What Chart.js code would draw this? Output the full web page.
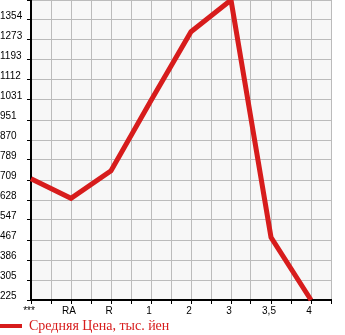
<!DOCTYPE html>
<html>
<head>
<meta charset="utf-8">
<script src="https://cdn.jsdelivr.net/npm/chart.js@4.4.0/dist/chart.umd.min.js"></script>
<style>
  html, body { margin: 0; padding: 0; background: #ffffff; }
  #wrap { width: 345px; height: 335px; }
</style>
</head>
<body>
<div id="wrap"><canvas id="chart"></canvas></div>
<script>
// categories along the bottom axis
const categories = ['***', 'RA', 'R', '1', '2', '3', '3,5', '4'];
// average price, thousand yen
const prices = [714, 635, 746, 1030, 1307, 1435, 478, 225];
// left axis labels (top gridline has no label)
const yTickLabels = ['225', '305', '386', '467', '547', '628', '709', '789',
  '870', '951', '1031', '1112', '1193', '1273', '1354', ''];
const yMin = 225;
const yMax = 1435;
const seriesName = 'Средняя Цена, тыс. йен';

const lineColor = '#d71c1c';

const plotBackground = {
  id: 'plotBackground',
  beforeDraw(chart) {
    const { ctx, chartArea: a } = chart;
    ctx.save();
    ctx.fillStyle = '#f7f7f7';
    ctx.fillRect(a.left, a.top, a.right - a.left, a.bottom - a.top);
    ctx.restore();
  }
};

new Chart(document.getElementById('chart'), {
  type: 'line',
  data: {
    datasets: [{
      label: seriesName,
      data: prices.map((v, i) => ({ x: i, y: v })),
      borderColor: lineColor,
      backgroundColor: lineColor,
      borderWidth: 5,
      pointRadius: 0,
      tension: 0,
      clip: false
    }]
  },
  options: {
    responsive: true,
    maintainAspectRatio: false,
    animation: false,
    // negative bottom padding pulls the legend down to the canvas edge
    layout: { padding: { top: 0, left: 0, right: 14, bottom: -8 } },
    plugins: {
      tooltip: { enabled: false },
      legend: {
        display: true,
        position: 'bottom',
        align: 'start',
        labels: {
          boxWidth: 22,
          boxHeight: 4,
          padding: 0,
          color: '#d71c1c',
          font: { family: '"Liberation Serif", "DejaVu Serif", serif', size: 14 },
          generateLabels(chart) {
            const items = Chart.defaults.plugins.legend.labels.generateLabels(chart);
            items.forEach(it => { it.lineWidth = 0; it.fillStyle = lineColor; });
            return items;
          }
        }
      }
    },
    scales: {
      x: {
        type: 'linear',
        min: 0,
        max: 7.5,
        afterBuildTicks(scale) {
          const t = [];
          for (let i = 0; i <= 15; i++) t.push({ value: i * 0.5 });
          scale.ticks = t;
        },
        afterFit(scale) {
          scale.height = 19;
          scale.paddingLeft = 0;
          scale.paddingRight = 0;
        },
        grid: { color: '#bbbbbb', tickColor: '#000000', tickLength: 4, lineWidth: 1 },
        border: { color: '#000000', width: 2 },
        ticks: {
          autoSkip: false,
          maxRotation: 0,
          padding: 1,
          labelOffset: -2,
          color: '#000000',
          font: { family: '"Liberation Sans", Arial, sans-serif', size: 10 },
          callback(value) {
            return Number.isInteger(value) ? categories[value] : '';
          }
        }
      },
      y: {
        type: 'linear',
        min: yMin,
        max: yMax,
        afterBuildTicks(scale) {
          const step = (yMax - yMin) / (yTickLabels.length - 1);
          scale.ticks = yTickLabels.map((_, i) => ({ value: yMin + i * step }));
        },
        afterFit(scale) {
          scale.width = 31;
          scale.paddingTop = 0;
          scale.paddingBottom = 0;
        },
        grid: { color: '#bbbbbb', tickColor: '#000000', tickLength: 4, lineWidth: 1 },
        border: { color: '#000000', width: 2 },
        ticks: {
          autoSkip: false,
          crossAlign: 'far',
          labelOffset: -4,
          color: '#000000',
          font: { family: '"Liberation Sans", Arial, sans-serif', size: 10 },
          callback(value, index) {
            return yTickLabels[index];
          }
        }
      }
    }
  },
  plugins: [plotBackground]
});
</script>
</body>
</html>
